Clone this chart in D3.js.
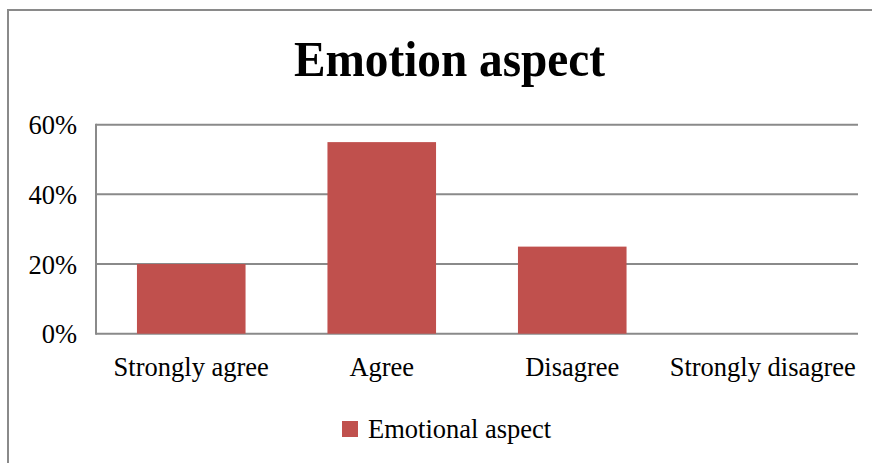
<!DOCTYPE html>
<html>
<head>
<meta charset="utf-8">
<script src="https://cdn.jsdelivr.net/npm/d3@7"></script>
<style>
  html, body { margin: 0; padding: 0; background: #fff; }
  svg { display: block; }
  text { font-family: "Liberation Serif", "Times New Roman", serif; fill: #000; }
</style>
</head>
<body>
<svg id="chart" width="872" height="463"></svg>
<script>
const categories = ["Strongly agree", "Agree", "Disagree", "Strongly disagree"];
const values = [0.20, 0.55, 0.25, 0];
const seriesName = "Emotional aspect";
const title = "Emotion aspect";
const yTicks = [0, 0.2, 0.4, 0.6];

const svg = d3.select("#chart");
const W = 872, H = 463;
const margin = { left: 96, right: 14, top: 124.7, bottom: 129.3 };
const plotW = W - margin.left - margin.right;
const plotH = H - margin.top - margin.bottom;
const FS = 26.5;

// outer border
svg.append("rect")
  .attr("x", 8).attr("y", 10)
  .attr("width", W + 10).attr("height", H + 10)
  .attr("fill", "none").attr("stroke", "#8a8a8a").attr("stroke-width", 2);

// title
svg.append("text")
  .attr("x", 449.5).attr("y", 76)
  .attr("text-anchor", "middle")
  .attr("font-size", 50)
  .attr("font-weight", "bold")
  .attr("textLength", 311)
  .attr("lengthAdjust", "spacingAndGlyphs")
  .text(title);

const g = svg.append("g").attr("transform", `translate(${margin.left},${margin.top})`);

const x = d3.scaleBand().domain(categories).range([0, plotW]).paddingInner(0.43).paddingOuter(0.215);
const y = d3.scaleLinear().domain([0, 0.6]).range([plotH, 0]);

// gridlines
g.selectAll("line.grid").data(yTicks).enter().append("line")
  .attr("class", "grid")
  .attr("x1", 0).attr("x2", plotW)
  .attr("y1", d => y(d)).attr("y2", d => y(d))
  .attr("stroke", "#8a8a8a").attr("stroke-width", 2);

// y axis line
g.append("line")
  .attr("x1", 0).attr("x2", 0)
  .attr("y1", y(0.6) - 1).attr("y2", y(0) + 1)
  .attr("stroke", "#8a8a8a").attr("stroke-width", 2);

// y axis labels
const yAxis = d3.axisLeft(y).tickValues(yTicks).tickFormat(d3.format(".0%")).tickSize(0).tickPadding(19);
const ya = g.append("g").call(yAxis);
ya.select(".domain").remove();
ya.selectAll("text").attr("font-size", FS).attr("fill", "#000").attr("dy", "0.34em");

// bars
g.selectAll("rect.bar").data(categories).enter().append("rect")
  .attr("class", "bar")
  .attr("x", d => x(d))
  .attr("width", x.bandwidth())
  .attr("y", (d, i) => y(values[i]))
  .attr("height", (d, i) => y(0) - y(values[i]))
  .attr("fill", "#C0504D");

// x axis labels
const xAxis = d3.axisBottom(x).tickSize(0).tickPadding(0);
const xa = g.append("g").attr("transform", `translate(0,${plotH})`).call(xAxis);
xa.select(".domain").remove();
xa.selectAll("text").attr("font-size", FS).attr("fill", "#000")
  .attr("dy", null).attr("y", 376 - margin.top - plotH);

// legend
const lg = svg.append("g");
lg.append("rect").attr("x", 342).attr("y", 421).attr("width", 16).attr("height", 16).attr("fill", "#C0504D");
lg.append("text").attr("x", 368).attr("y", 438).attr("font-size", FS).text(seriesName);
</script>
</body>
</html>
